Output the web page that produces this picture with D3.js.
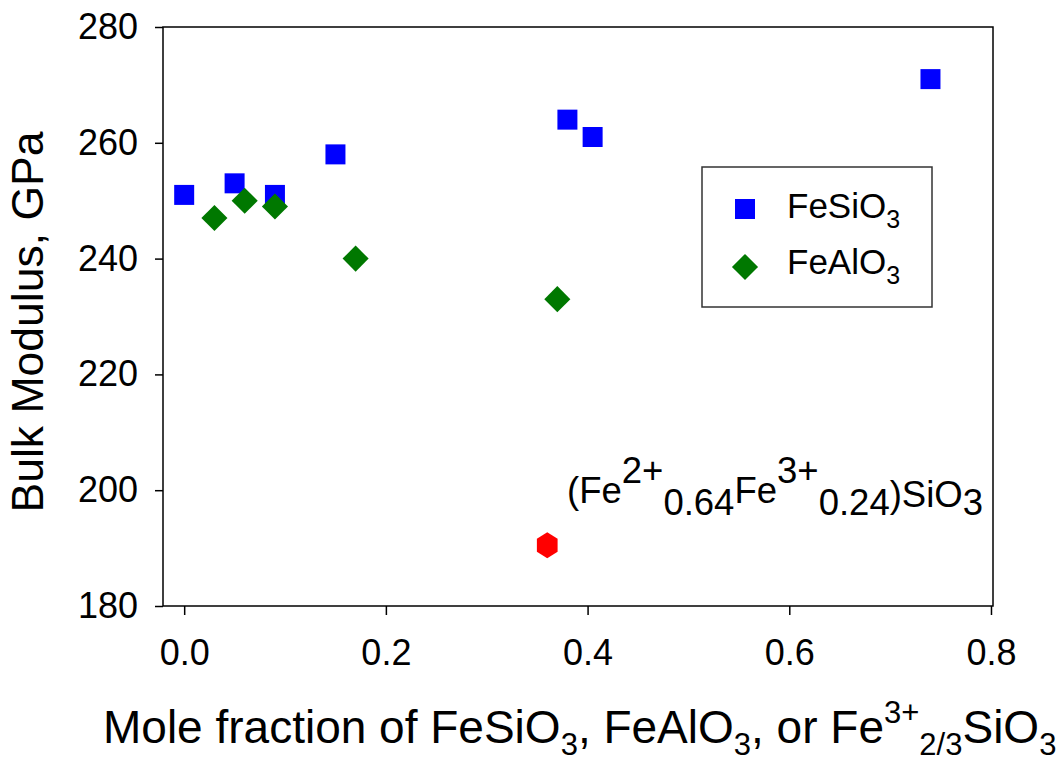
<!DOCTYPE html>
<html><head><meta charset="utf-8">
<script src="https://cdn.jsdelivr.net/npm/d3@7"></script>
<style>body{margin:0;background:#fff;} svg{display:block;font-family:"Liberation Sans",Arial,sans-serif;}</style>
</head><body>
<svg id="chart" width="1059" height="762"></svg>
<script>
const feSiO3X = [0.0, 0.05, 0.09, 0.15, 0.38, 0.405, 0.74];
const feSiO3Y = [251, 253, 251, 258, 264, 261, 271];
const feAlO3X = [0.03, 0.06, 0.09, 0.17, 0.37];
const feAlO3Y = [247, 250, 249, 240, 233];
const fe3X = [0.36];
const fe3Y = [190.5];
const xTicks = [0.0, 0.2, 0.4, 0.6, 0.8];
const yTicks = [180, 200, 220, 240, 260, 280];
const legendLabels = ["FeSiO", "FeAlO"];

const svg = d3.select("#chart");
const x = d3.scaleLinear().domain([-0.021, 0.802]).range([163, 993]);
const y = d3.scaleLinear().domain([180, 280]).range([606, 27]);

// frame
svg.append("rect").attr("x", x(-0.021)).attr("y", y(280))
  .attr("width", x(0.802) - x(-0.021)).attr("height", y(180) - y(280))
  .attr("fill", "none").attr("stroke", "#000").attr("stroke-width", 1.5);

// axes
const yAxis = svg.append("g").attr("transform", `translate(${x(-0.021)},0)`)
  .call(d3.axisLeft(y).tickValues(yTicks).tickFormat(d3.format("d")).tickSize(8).tickPadding(17));
const xAxis = svg.append("g").attr("transform", `translate(0,${y(180)})`)
  .call(d3.axisBottom(x).tickValues(xTicks).tickFormat(d3.format(".1f")).tickSize(9).tickPadding(24));
[xAxis, yAxis].forEach(a => {
  a.select(".domain").remove();
  a.selectAll("line").attr("stroke", "#000").attr("stroke-width", 1.5);
  a.selectAll("text").attr("font-size", 36).attr("fill", "#000").attr("font-family", "Liberation Sans, Arial, sans-serif");
});

// data
const sq = d3.symbol().type(d3.symbolSquare).size(400);
const dm = d3.symbol().type(d3.symbolSquare).size(340);
svg.append("g").selectAll("path").data(feSiO3X).join("path")
  .attr("d", sq).attr("fill", "#0000ff")
  .attr("transform", (d, i) => `translate(${x(d)},${y(feSiO3Y[i])})`);
svg.append("g").selectAll("path").data(feAlO3X).join("path")
  .attr("d", dm).attr("fill", "#007800")
  .attr("transform", (d, i) => `translate(${x(d)},${y(feAlO3Y[i])}) rotate(45)`);
const hex = (r) => { const p = d3.path(); for (let k = 0; k < 6; k++) { const a = Math.PI / 2 + k * Math.PI / 3; const px = r * 0.92 * Math.cos(a), py = r * Math.sin(a); k ? p.lineTo(px, py) : p.moveTo(px, py); } p.closePath(); return p.toString(); };
svg.append("g").selectAll("path").data(fe3X).join("path")
  .attr("d", hex(13)).attr("fill", "#ff0000")
  .attr("transform", (d, i) => `translate(${x(d)},${y(fe3Y[i])})`);

// annotation
const ann = svg.append("text").attr("x", 567).attr("y", 503).attr("font-size", 36.5).attr("fill", "#000");
ann.append("tspan").text("(Fe");
ann.append("tspan").attr("dy", -20).text("2+");
ann.append("tspan").attr("dy", 32).text("0.64");
ann.append("tspan").attr("dy", -12).text("Fe");
ann.append("tspan").attr("dy", -20).text("3+");
ann.append("tspan").attr("dy", 32).text("0.24");
ann.append("tspan").attr("dy", -8).text(")SiO");
ann.append("tspan").attr("dy", 8).text("3");

// legend
svg.append("rect").attr("x", 702).attr("y", 167).attr("width", 230).attr("height", 140)
  .attr("fill", "#fff").attr("stroke", "#333").attr("stroke-width", 1.5);
const lg = svg.append("g");
lg.append("path").attr("d", sq).attr("fill", "#0000ff").attr("transform", "translate(745,209)");
lg.append("path").attr("d", dm).attr("fill", "#007800").attr("transform", "translate(745,267) rotate(45)");
legendLabels.forEach((t, i) => {
  const tx = lg.append("text").attr("x", 787).attr("y", 218 + i * 56).attr("font-size", 35).attr("fill", "#000");
  tx.append("tspan").text(t);
  tx.append("tspan").attr("dy", 10).attr("font-size", 25).text("3");
});

// axis titles
const xt = svg.append("text").attr("x", 103).attr("y", 743).attr("font-size", 46).attr("fill", "#000");
xt.append("tspan").text("Mole fraction of FeSiO");
xt.append("tspan").attr("dy", 12).attr("font-size", 31).text("3");
xt.append("tspan").attr("dy", -12).text(", FeAlO");
xt.append("tspan").attr("dy", 12).attr("font-size", 31).text("3");
xt.append("tspan").attr("dy", -12).text(", or Fe");
xt.append("tspan").attr("dy", -20).attr("font-size", 31).text("3+");
xt.append("tspan").attr("dy", 32).attr("font-size", 31).text("2/3");
xt.append("tspan").attr("dy", -12).text("SiO");
xt.append("tspan").attr("dy", 12).attr("font-size", 31).text("3");

svg.append("text").attr("transform", "translate(43,322) rotate(-90)")
  .attr("text-anchor", "middle").attr("font-size", 44.5).attr("fill", "#000")
  .text("Bulk Modulus, GPa");
</script>
</body></html>
